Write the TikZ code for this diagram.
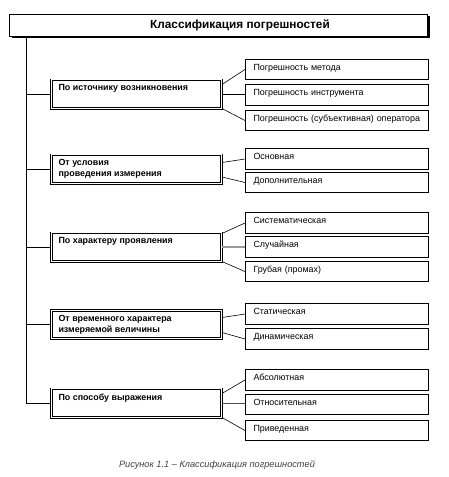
\documentclass[tikz,border=0pt]{standalone}
\usepackage{fontspec}
\setmainfont{Liberation Sans}
\usetikzlibrary{calc,shadows}

\tikzset{
  titlebox/.style={draw, line width=0.8pt, fill=white, minimum width=418pt, minimum height=22pt, inner sep=0pt,
    font=\bfseries\fontsize{11.8}{14}\selectfont,
    drop shadow={shadow xshift=2.3pt, shadow yshift=-2.3pt, opacity=1, fill=black}},
  catbox/.style={draw, double, double distance=1pt, line width=0.8pt, minimum width=170.4pt, minimum height=28.4pt,
    inner sep=0pt, font=\bfseries\fontsize{8.9}{11}\selectfont},
  itembox/.style={draw, line width=0.7pt, minimum width=183.3pt, minimum height=20.5pt, text width=167pt,
    inner xsep=8pt, inner ysep=0pt, align=left, text height=5.5pt, text depth=4.5pt, font=\fontsize{8.9}{10}\selectfont},
  link/.style={line width=0.6pt},
  trunk/.style={line width=0.8pt}
}
\newcommand{\cattext}[1]{\parbox[c][18.5pt][t]{156pt}{#1}}

\begin{document}
\begin{tikzpicture}[x=1pt,y=-1pt]
  \useasboundingbox (0,0) rectangle (449,477);

  % heading
  \node[titlebox] (title) at (218.6,25) {\hspace*{42.8pt}Классификация погрешностей};
  \coordinate (trunktop) at ($(title.south west)+(16.7,0)$);

  % groups on the left
  \node[catbox] (cat1) at (136.5,94)    {\cattext{По источнику возникновения}};
  \node[catbox] (cat2) at (136.5,169)   {\cattext{От условия\\проведения измерения}};
  \node[catbox] (cat3) at (136.5,247)   {\cattext{По характеру проявления}};
  \node[catbox] (cat4) at (136.5,324.5) {\cattext{От временного характера\\измеряемой величины}};
  \node[catbox] (cat5) at (136.5,403)   {\cattext{По способу выражения}};

  \draw[trunk] (trunktop) |- (cat5.west);
  \foreach \c in {cat1,cat2,cat3,cat4}{
    \draw[trunk] (trunktop |- \c.west) -- (\c.west);
  }

  % kinds on the right
  \node[itembox] (met)  at (337,69.5)  {Погрешность метода};
  \node[itembox] (ins)  at (337,95)    {Погрешность инструмента};
  \node[itembox] (opr)  at (337,120.5) {Погрешность (субъективная) оператора};

  \node[itembox] (osn)  at (337,159)   {Основная};
  \node[itembox] (dop)  at (337,182.5) {Дополнительная};

  \node[itembox] (sis)  at (337,223)   {Систематическая};
  \node[itembox] (slu)  at (337,247)   {Случайная};
  \node[itembox] (gru)  at (337,271.5) {Грубая (промах)};

  \node[itembox] (sta)  at (337,314)   {Статическая};
  \node[itembox] (din)  at (337,339)   {Динамическая};

  \node[itembox] (abs)  at (337,380)   {Абсолютная};
  \node[itembox] (otn)  at (337,404.5) {Относительная};
  \node[itembox] (pri)  at (337,430.5) {Приведенная};

  % links
  \draw[link] ($(cat1.north east)+(0,5)$) -- (met.west);
  \draw[trunk] (cat1.east) -- (cat1.east -| ins.west);
  \draw[link] (cat1.south east) -- (opr.west);

  \draw[link] ($(cat2.east)+(0,-6.5)$) -- (osn.west);
  \draw[link] ($(cat2.east)+(0,8)$) -- (dop.west);

  \draw[link] ($(cat3.north east)+(0,1)$) -- (sis.west);
  \draw[line width=1.2pt, black!40] (cat3.east) -- (cat3.east -| slu.west);
  \draw[link] (cat3.south east) -- (gru.west);

  \draw[link] ($(cat4.east)+(0,-7)$) -- (sta.west);
  \draw[link] ($(cat4.east)+(0,8)$) -- (din.west);

  \draw[link] ($(cat5.north east)+(0,5)$) -- (abs.west);
  \draw[trunk, black!70] (cat5.east) -- (cat5.east -| otn.west);
  \draw[link] (cat5.south east) -- (pri.west);

  % caption
  \node[font=\itshape\fontsize{9.2}{11}\selectfont, text=black!75] (caption) at (217,465)
    {Рисунок 1.1 – Классификация погрешностей};
\end{tikzpicture}
\end{document}
